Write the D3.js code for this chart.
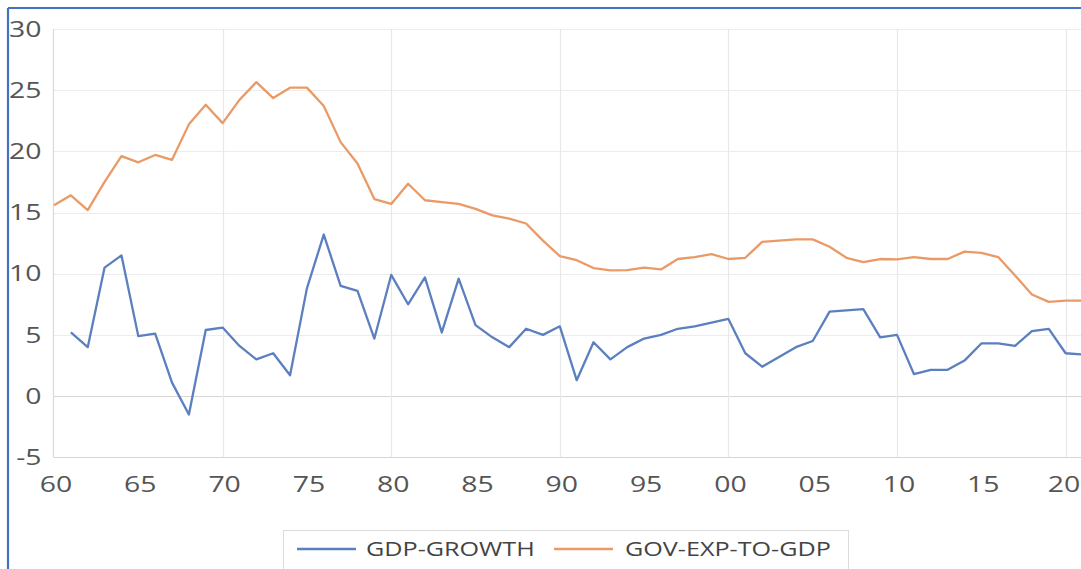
<!DOCTYPE html>
<html>
<head>
<meta charset="utf-8">
<script src="https://cdn.jsdelivr.net/npm/d3@7"></script>
<style>
  html, body { margin: 0; padding: 0; background: #fff; }
  svg { display: block; }
</style>
</head>
<body>
<svg id="chart" width="1081" height="569"></svg>
<script>
// ---- data ----
const years = [1960,1961,1962,1963,1964,1965,1966,1967,1968,1969,
  1970,1971,1972,1973,1974,1975,1976,1977,1978,1979,
  1980,1981,1982,1983,1984,1985,1986,1987,1988,1989,
  1990,1991,1992,1993,1994,1995,1996,1997,1998,1999,
  2000,2001,2002,2003,2004,2005,2006,2007,2008,2009,
  2010,2011,2012,2013,2014,2015,2016,2017,2018,2019,
  2020,2021];

const gdpGrowth = [null,5.2,4.0,10.5,11.5,4.9,5.1,1.1,-1.5,5.4,
  5.6,4.1,3.0,3.5,1.7,8.8,13.2,9.0,8.6,4.7,
  9.9,7.5,9.7,5.2,9.6,5.8,4.8,4.0,5.5,5.0,
  5.7,1.3,4.4,3.0,4.0,4.7,5.0,5.5,5.7,6.0,
  6.3,3.5,2.4,3.2,4.0,4.5,6.9,7.0,7.1,4.8,
  5.0,1.8,2.15,2.15,2.9,4.3,4.3,4.1,5.3,5.5,
  3.5,3.4];

const govExpToGdp = [15.6,16.4,15.2,17.5,19.6,19.1,19.7,19.3,22.2,23.8,
  22.3,24.2,25.65,24.35,25.2,25.2,23.7,20.75,19.0,16.1,
  15.7,17.35,16.0,15.85,15.7,15.3,14.76,14.5,14.1,12.7,
  11.44,11.1,10.46,10.27,10.3,10.5,10.35,11.2,11.36,11.6,
  11.2,11.3,12.6,12.7,12.8,12.8,12.2,11.3,10.95,11.2,
  11.17,11.36,11.2,11.2,11.8,11.7,11.36,9.86,8.3,7.7,
  7.8,7.8];

const seriesNames = ["GDP-GROWTH", "GOV-EXP-TO-GDP"];
const seriesColors = ["#5b7fbf", "#e99a67"];

const xTickYears = [1960,1965,1970,1975,1980,1985,1990,1995,2000,2005,2010,2015,2020];
const xTickLabels = ["60","65","70","75","80","85","90","95","00","05","10","15","20"];
const xGridYears = [1970,1980,1990,2000,2010,2020];
const yTicks = [-5,0,5,10,15,20,25,30];

// ---- layout ----
const svg = d3.select("#chart");
const W = 1081, H = 569;
const x = d3.scaleLinear().domain([1960, 2021]).range([54, 1082.5]);
const y = d3.scaleLinear().domain([-5, 30]).range([457.3, 28.9]);
const SX = 1.29; // horizontal stretch of glyphs seen in the reference
const font = "'Open Sans', 'DejaVu Sans', sans-serif";
const textColor = "#555555";

// outer blue frame
svg.append("line").attr("x1", 8).attr("x2", W).attr("y1", 8).attr("y2", 8)
  .attr("stroke", "#4472c4").attr("stroke-width", 2.2);
svg.append("line").attr("x1", 8).attr("x2", 8).attr("y1", 8).attr("y2", H)
  .attr("stroke", "#4472c4").attr("stroke-width", 2.2);

// horizontal grid
svg.append("g").selectAll("line").data(yTicks).join("line")
  .attr("x1", x(1960)).attr("x2", W)
  .attr("y1", d => Math.round(y(d)) + 0.5).attr("y2", d => Math.round(y(d)) + 0.5)
  .attr("stroke", d => (d === 0 || d === -5) ? "#d6d6d6" : "#ececec")
  .attr("stroke-width", 1.2);

// vertical grid
svg.append("g").selectAll("line").data(xGridYears).join("line")
  .attr("x1", d => Math.round(x(d)) + 0.5).attr("x2", d => Math.round(x(d)) + 0.5)
  .attr("y1", y(30)).attr("y2", y(-5))
  .attr("stroke", "#e8e8e8").attr("stroke-width", 1.2);

// left axis line
svg.append("line")
  .attr("x1", Math.round(x(1960)) - 0.5).attr("x2", Math.round(x(1960)) - 0.5)
  .attr("y1", y(30)).attr("y2", y(-5))
  .attr("stroke", "#d9d9d9").attr("stroke-width", 1.2);

// y tick labels
svg.append("g").selectAll("text").data(yTicks).join("text")
  .attr("transform", d => `translate(41.5,${y(d) - 1}) scale(${SX},1)`)
  .attr("text-anchor", "end").attr("dominant-baseline", "central")
  .attr("font-family", font).attr("font-size", 22).attr("fill", textColor)
  .text(d => d);

// x tick labels (the last one is kept inside the picture, as in the reference)
svg.append("g").selectAll("text").data(xTickYears).join("text")
  .attr("transform", d => `translate(${Math.min(x(d) + 2, W - 17)},${483}) scale(${SX},1)`)
  .attr("text-anchor", "middle").attr("dominant-baseline", "central")
  .attr("font-family", font).attr("font-size", 22).attr("fill", textColor)
  .text((d, i) => xTickLabels[i]);

// lines
const lineGen = d3.line()
  .defined(d => d.v !== null)
  .x(d => x(d.year)).y(d => y(d.v));

const series = [gdpGrowth, govExpToGdp];
series.forEach((vals, si) => {
  const pts = years.map((yr, i) => ({ year: yr, v: vals[i] }));
  svg.append("path").datum(pts)
    .attr("fill", "none").attr("stroke", seriesColors[si])
    .attr("stroke-width", 2.3).attr("stroke-linejoin", "round")
    .attr("d", lineGen);
});

// legend
const legend = svg.append("g");
legend.append("rect").attr("x", 283.5).attr("y", 530.5).attr("width", 565).attr("height", 60)
  .attr("fill", "#fff").attr("stroke", "#dcdcdc").attr("stroke-width", 1);
const legendItems = [{ lx: 297, tx: 366 }, { lx: 554, tx: 625 }];
legendItems.forEach((it, i) => {
  legend.append("line").attr("x1", it.lx).attr("x2", it.lx + 59)
    .attr("y1", 549).attr("y2", 549)
    .attr("stroke", seriesColors[i]).attr("stroke-width", 2.3);
  legend.append("text")
    .attr("transform", `translate(${it.tx},549) scale(${SX},1)`)
    .attr("dominant-baseline", "central")
    .attr("font-family", font).attr("font-size", 19.5).attr("fill", "#444444")
    .text(seriesNames[i]);
});
</script>
</body>
</html>
